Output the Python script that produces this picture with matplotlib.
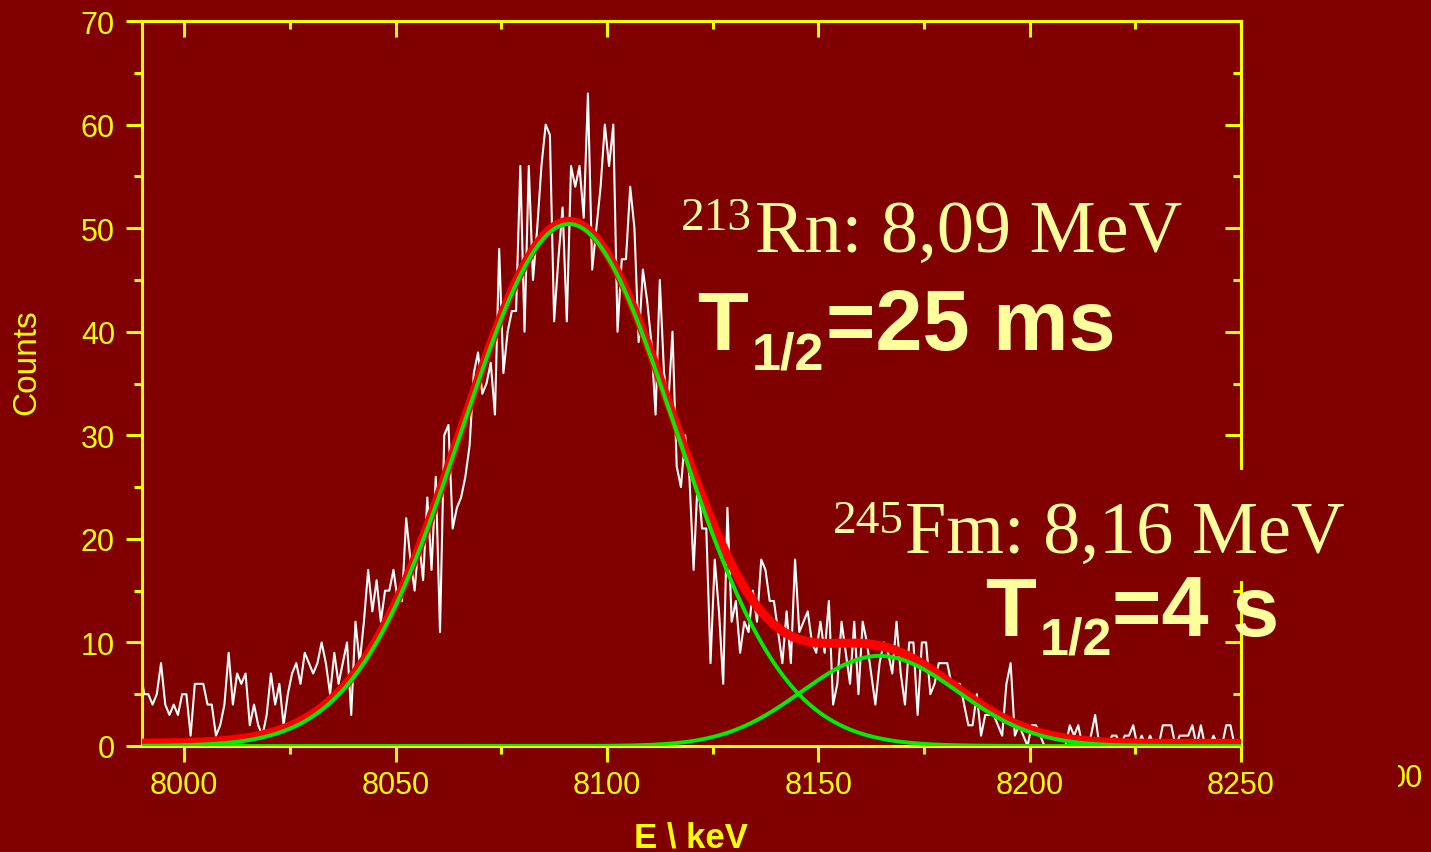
import numpy as np
import matplotlib
matplotlib.use("Agg")
import matplotlib.pyplot as plt
from matplotlib.ticker import MultipleLocator
from matplotlib.patches import Rectangle

plt.rcParams['font.family'] = ['Liberation Sans', 'DejaVu Sans']

BG = '#800000'
YEL = '#FFFF00'
PALE = '#FFFF9C'
W, H = 1431, 853

# alpha spectrum, 1 keV bins (bin centres from 7989.5 keV)
e_start = 7989.5
counts = [8,
          5, 5, 4, 5, 8, 4, 3, 4, 3, 5,
          5, 1, 6, 6, 6, 4, 4, 1, 2, 4,
          9, 4, 7, 6, 7, 2, 4, 2, 1, 3,
          7, 4, 6, 2, 5, 7, 8, 6, 9, 8,
          7, 8, 10, 8, 5, 9, 6, 8, 10, 3,
          12, 8, 12, 17, 13, 16, 12, 15, 15, 17,
          14, 14, 22, 18, 15, 20, 16, 24, 17, 26,
          11, 30, 31, 21, 23, 24, 26, 29, 36, 38,
          34, 35, 37, 32, 48, 36, 40, 42, 42, 56,
          40, 56, 45, 50, 56, 60, 59, 41, 47, 52,
          41, 56, 54, 56, 51, 63, 46, 50, 54, 60,
          56, 60, 40, 47, 47, 54, 50, 39, 46, 43,
          39, 32, 45, 36, 33, 40, 27, 25, 30, 26,
          17, 26, 21, 21, 8, 18, 13, 6, 23, 12,
          14, 9, 12, 11, 15, 12, 18, 17, 14, 14,
          11, 8, 13, 8, 18, 11, 12, 13, 10, 9,
          12, 9, 14, 4, 6, 12, 9, 6, 12, 5,
          12, 10, 7, 4, 8, 10, 9, 7, 12, 7,
          4, 10, 10, 3, 10, 10, 5, 6, 8, 8,
          8, 6, 6, 6, 4, 2, 2, 5, 1, 3,
          3, 3, 2, 1, 6, 8, 1, 2, 1, 0,
          2, 2, 1, 0, 0, 0, 0, 0, 0, 2,
          1, 2, 0, 0, 1, 3, 0, 0, 0, 1,
          1, 0, 1, 1, 2, 0, 1, 0, 1, 0,
          0, 2, 2, 2, 0, 1, 1, 1, 2, 0,
          2, 0, 0, 1, 0, 0, 2, 2, 0, 0]
energy = e_start + np.arange(len(counts))

# two-gaussian fit parameters (amplitude, centre keV, sigma keV) + flat background
rn_fit = (50.4, 8091.0, 25.3)
fm_fit = (8.7, 8164.5, 18.4)
bkg = 0.25

x_ticks = [8000, 8050, 8100, 8150, 8200, 8250]
y_ticks = [0, 10, 20, 30, 40, 50, 60, 70]


def gauss(x, amp, mu, sig):
    return amp * np.exp(-(x - mu) ** 2 / (2 * sig ** 2))


def at(x, y):
    return x / W, 1 - y / H


fig = plt.figure(figsize=(W / 100, H / 100), dpi=100, facecolor=BG)
ax = fig.add_axes([142 / W, 1 - 747 / H, (1241 - 142) / W, (747 - 22) / H])
ax.set_facecolor(BG)

e_fine = np.linspace(7990, 8250, 800)
g_rn = gauss(e_fine, *rn_fit)
g_fm = gauss(e_fine, *fm_fit)

ax.plot(energy, counts, color='white', lw=1.5, zorder=2)
ax.plot(e_fine, g_rn + g_fm + bkg, color='#FF0000', lw=6.5, zorder=3)
ax.plot(e_fine, g_rn, color='#00EE00', lw=2.8, zorder=4)
ax.plot(e_fine, g_fm, color='#00EE00', lw=2.8, zorder=4)

ax.set_xlim(7990, 8250)
ax.set_ylim(0, 70)
ax.set_xticks(x_ticks)
ax.set_yticks(y_ticks)
ax.xaxis.set_minor_locator(MultipleLocator(25))
ax.yaxis.set_minor_locator(MultipleLocator(5))

for sp in ax.spines.values():
    sp.set_color(YEL)
    sp.set_linewidth(2.2)

ax.tick_params(which='major', direction='out', length=11.5, width=2.2,
               color=YEL, labelcolor=YEL, labelsize=22)
ax.tick_params(which='minor', direction='out', length=6, width=2.2, color=YEL)
ax.tick_params(axis='x', pad=6)
ax.tick_params(axis='y', pad=8)

# inward ticks on the top and right frame
secx = ax.secondary_xaxis('top')
secx.set_xticks(x_ticks)
secx.xaxis.set_minor_locator(MultipleLocator(25))
secy = ax.secondary_yaxis('right')
secy.set_yticks(y_ticks)
secy.yaxis.set_minor_locator(MultipleLocator(5))
for sec in (secx, secy):
    for sp in sec.spines.values():
        sp.set_color(YEL)
        sp.set_linewidth(2.2)
    sec.tick_params(which='major', direction='in', length=11.5, width=2.2, color=YEL)
    sec.tick_params(which='minor', direction='in', length=6, width=2.2, color=YEL)
secx.tick_params(labeltop=False)
secy.tick_params(labelright=False)

fig.text(*at(27, 362), 'Counts', rotation=90, ha='center', va='center',
         color=YEL, fontsize=24)
fig.text(*at(691, 848), r'E \ keV', ha='center', va='baseline',
         color=YEL, fontsize=25, weight='bold')

# stray tick label at the right edge
fig.text(*at(1423, 787), '00', ha='right', va='baseline', color=YEL, fontsize=22)
fig.add_artist(Rectangle(at(1370, 800), 28 / W, 45 / H, transform=fig.transFigure,
                         facecolor=BG, edgecolor='none', zorder=5))

# background patch behind the 245Fm label, cutting the right frame
fig.add_artist(Rectangle(at(1218, 582), 40 / W, 111 / H, transform=fig.transFigure,
                         facecolor=BG, edgecolor='none', zorder=2))

serif = ['Liberation Serif', 'DejaVu Serif']

# 213Rn line
fig.text(*at(755, 252), 'Rn: 8,09 MeV', family=serif, fontsize=53.5,
         color=PALE, va='baseline', ha='left')
fig.text(*at(681, 230), '213', family=serif, fontsize=34,
         color=PALE, va='baseline', ha='left')
fig.text(*at(697, 350), 'T', weight='bold', fontsize=60, color=PALE, va='baseline')
fig.text(*at(752, 370), '1/2', weight='bold', fontsize=37.5, color=PALE, va='baseline')
fig.text(*at(826, 350), '=25 ms', weight='bold', fontsize=61, color=PALE, va='baseline')

# 245Fm line
fig.text(*at(905, 553), 'Fm: 8,16 MeV', family=serif, fontsize=53.5,
         color=PALE, va='baseline', ha='left', zorder=4)
fig.text(*at(833, 533), '245', family=serif, fontsize=34,
         color=PALE, va='baseline', ha='left', zorder=4)
fig.text(*at(985, 636), 'T', weight='bold', fontsize=60, color=PALE, va='baseline', zorder=4)
fig.text(*at(1040, 655), '1/2', weight='bold', fontsize=37.5, color=PALE, va='baseline', zorder=4)
fig.text(*at(1112, 636), '=4 s', weight='bold', fontsize=61, color=PALE, va='baseline', zorder=4)

fig.savefig('out.png', dpi=100, facecolor=BG)
